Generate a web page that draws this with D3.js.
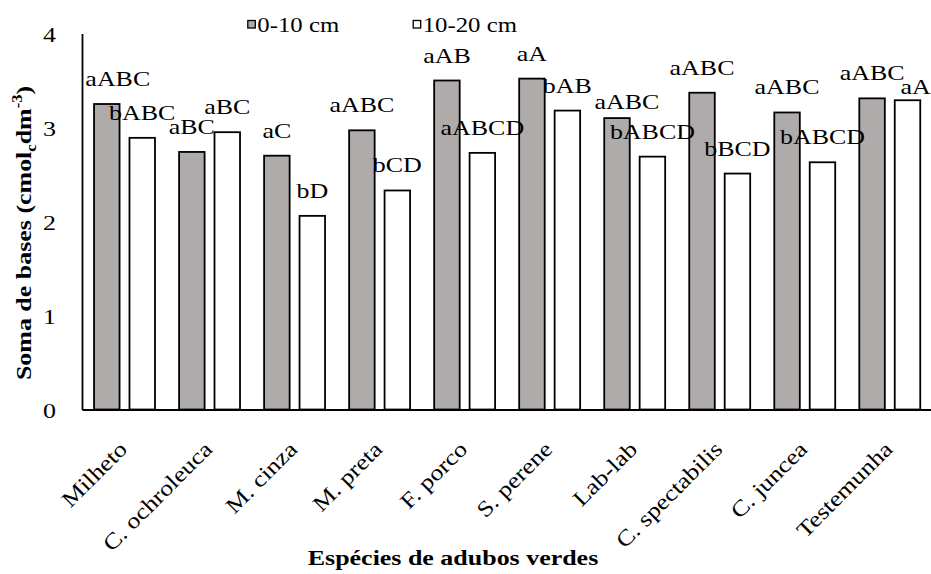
<!DOCTYPE html>
<html>
<head>
<meta charset="utf-8">
<script src="https://cdn.jsdelivr.net/npm/d3@7"></script>
<style>
  html, body { margin: 0; padding: 0; background: #ffffff; }
  svg { display: block; }
</style>
</head>
<body>
<svg id="chart" width="931" height="574" style="font-family: 'Liberation Serif', 'Times New Roman', Tinos, serif;"></svg>
<script>
// ---- data ----
const categories = ["Milheto", "C. ochroleuca", "M. cinza", "M. preta", "F. porco",
                    "S. perene", "Lab-lab", "C. spectabilis", "C. juncea", "Testemunha"];
const seriesNames = ["0-10 cm", "10-20 cm"];
const values0to10  = [3.25, 2.74, 2.70, 2.97, 3.50, 3.52, 3.10, 3.37, 3.16, 3.31];
const values10to20 = [2.89, 2.95, 2.06, 2.33, 2.73, 3.18, 2.69, 2.51, 2.63, 3.29];
const letters0to10  = ["aABC", "aBC", "aC", "aABC", "aAB", "aA", "aABC", "aABC", "aABC", "aABC"];
const letters10to20 = ["bABC", "aBC", "bD", "bCD", "aABCD", "bAB", "bABCD", "bBCD", "bABCD", "aA"];
const yTickValues = [0, 1, 2, 3, 4];
const yTitle = "Soma de bases";
const xTitle = "Espécies de adubos verdes";

// ---- layout ----
const FONT = "'Liberation Serif', 'Times New Roman', Tinos, serif";
const svg = d3.select("#chart");
const SX = 1.18;               // horizontal glyph stretch of the original text
const plotLeft = 82, plotRight = 932.3, plotTop = 33.5, plotBottom = 409.5;
const fills = ["#afabab", "#ffffff"];
const seriesValues = [values0to10, values10to20];
const seriesLetters = [letters0to10, letters10to20];
// manual label nudges (as in the original figure)
const nudge = { "0-0": [11, 0], "0-6": [10, 9], "1-9": [8, 12] };

const x0 = d3.scaleBand().domain(categories).range([plotLeft, plotRight]).padding(0);
const x1 = d3.scaleBand().domain(seriesNames).range([0, x0.bandwidth()])
  .paddingInner(0.28).paddingOuter(0.34);
const y = d3.scaleLinear().domain([0, 4]).range([plotBottom, plotTop]);

const rows = [];
seriesNames.forEach((s, si) => {
  categories.forEach((c, ci) => {
    rows.push({ s, si, c, ci, v: seriesValues[si][ci], lab: seriesLetters[si][ci] });
  });
});

// bars
svg.append("g").selectAll("rect").data(rows).join("rect")
  .attr("x", d => x0(d.c) + x1(d.s))
  .attr("y", d => y(d.v))
  .attr("width", x1.bandwidth())
  .attr("height", d => y(0) - y(d.v))
  .attr("fill", d => fills[d.si])
  .attr("stroke", "#000")
  .attr("stroke-width", 1.8);

// data labels
svg.append("g").selectAll("text").data(rows).join("text")
  .style("font-family", FONT)
  .attr("text-anchor", "middle")
  .attr("font-size", 22)
  .attr("transform", d => {
    const n = nudge[d.si + "-" + d.ci] || [0, 0];
    const cx = x0(d.c) + x1(d.s) + x1.bandwidth() / 2 + n[0];
    const cy = y(d.v) - 18 + n[1];
    return `translate(${cx},${cy}) scale(${SX},1)`;
  })
  .text(d => d.lab);

// y axis
const yAxis = svg.append("g").attr("transform", `translate(${plotLeft},0)`)
  .call(d3.axisLeft(y).tickValues(yTickValues).tickSize(0).tickFormat(d3.format("d")));
yAxis.attr("font-family", null).attr("font-size", null);
yAxis.select(".domain").attr("stroke", "#000").attr("stroke-width", 1.8);
yAxis.selectAll(".tick text")
  .style("font-family", FONT)
  .attr("x", 0).attr("dy", null)
  .attr("font-size", 22)
  .attr("fill", "#000")
  .attr("text-anchor", "end")
  .attr("transform", `translate(-26,7.5) scale(${SX},1)`);

// x axis
const xAxis = svg.append("g").attr("transform", `translate(0,${plotBottom})`)
  .call(d3.axisBottom(x0).tickSize(0));
xAxis.attr("font-family", null).attr("font-size", null);
xAxis.select(".domain").attr("stroke", "#000").attr("stroke-width", 2);
xAxis.selectAll(".tick text")
  .style("font-family", FONT)
  .attr("x", 0).attr("y", 0).attr("dy", null)
  .attr("font-size", 22)
  .attr("fill", "#000")
  .attr("text-anchor", "end")
  .attr("transform", `translate(4,41) rotate(-45) scale(${SX},1)`);

// y title
const yt = svg.append("text")
  .style("font-family", FONT)
  .attr("text-anchor", "middle")
  .attr("font-size", 22)
  .attr("font-weight", "bold")
  .attr("transform", `translate(31,233) rotate(-90) scale(${SX},1)`);
yt.append("tspan").text(yTitle + " (cmol");
yt.append("tspan").attr("font-size", 14).attr("dy", 5).text("c");
yt.append("tspan").attr("dy", -5).text("dm");
yt.append("tspan").attr("font-size", 14).attr("dy", -9).text("-3");
yt.append("tspan").attr("dy", 9).text(")");

// x title
svg.append("text")
  .style("font-family", FONT)
  .attr("text-anchor", "middle")
  .attr("font-size", 22)
  .attr("font-weight", "bold")
  .attr("transform", `translate(453,565) scale(${SX},1)`)
  .text(xTitle);

// legend
const legendX = [247.8, 413.2];
const lg = svg.append("g").selectAll("g").data(seriesNames).join("g")
  .attr("transform", (d, i) => `translate(${legendX[i]},20.5)`);
lg.append("rect")
  .attr("width", 7.5).attr("height", 7.5)
  .attr("fill", (d, i) => fills[i])
  .attr("stroke", "#000").attr("stroke-width", 1.3);
lg.append("text")
  .style("font-family", FONT)
  .attr("font-size", 21)
  .attr("transform", `translate(9.5,11.5) scale(${SX},1)`)
  .text(d => d);
</script>
</body>
</html>
